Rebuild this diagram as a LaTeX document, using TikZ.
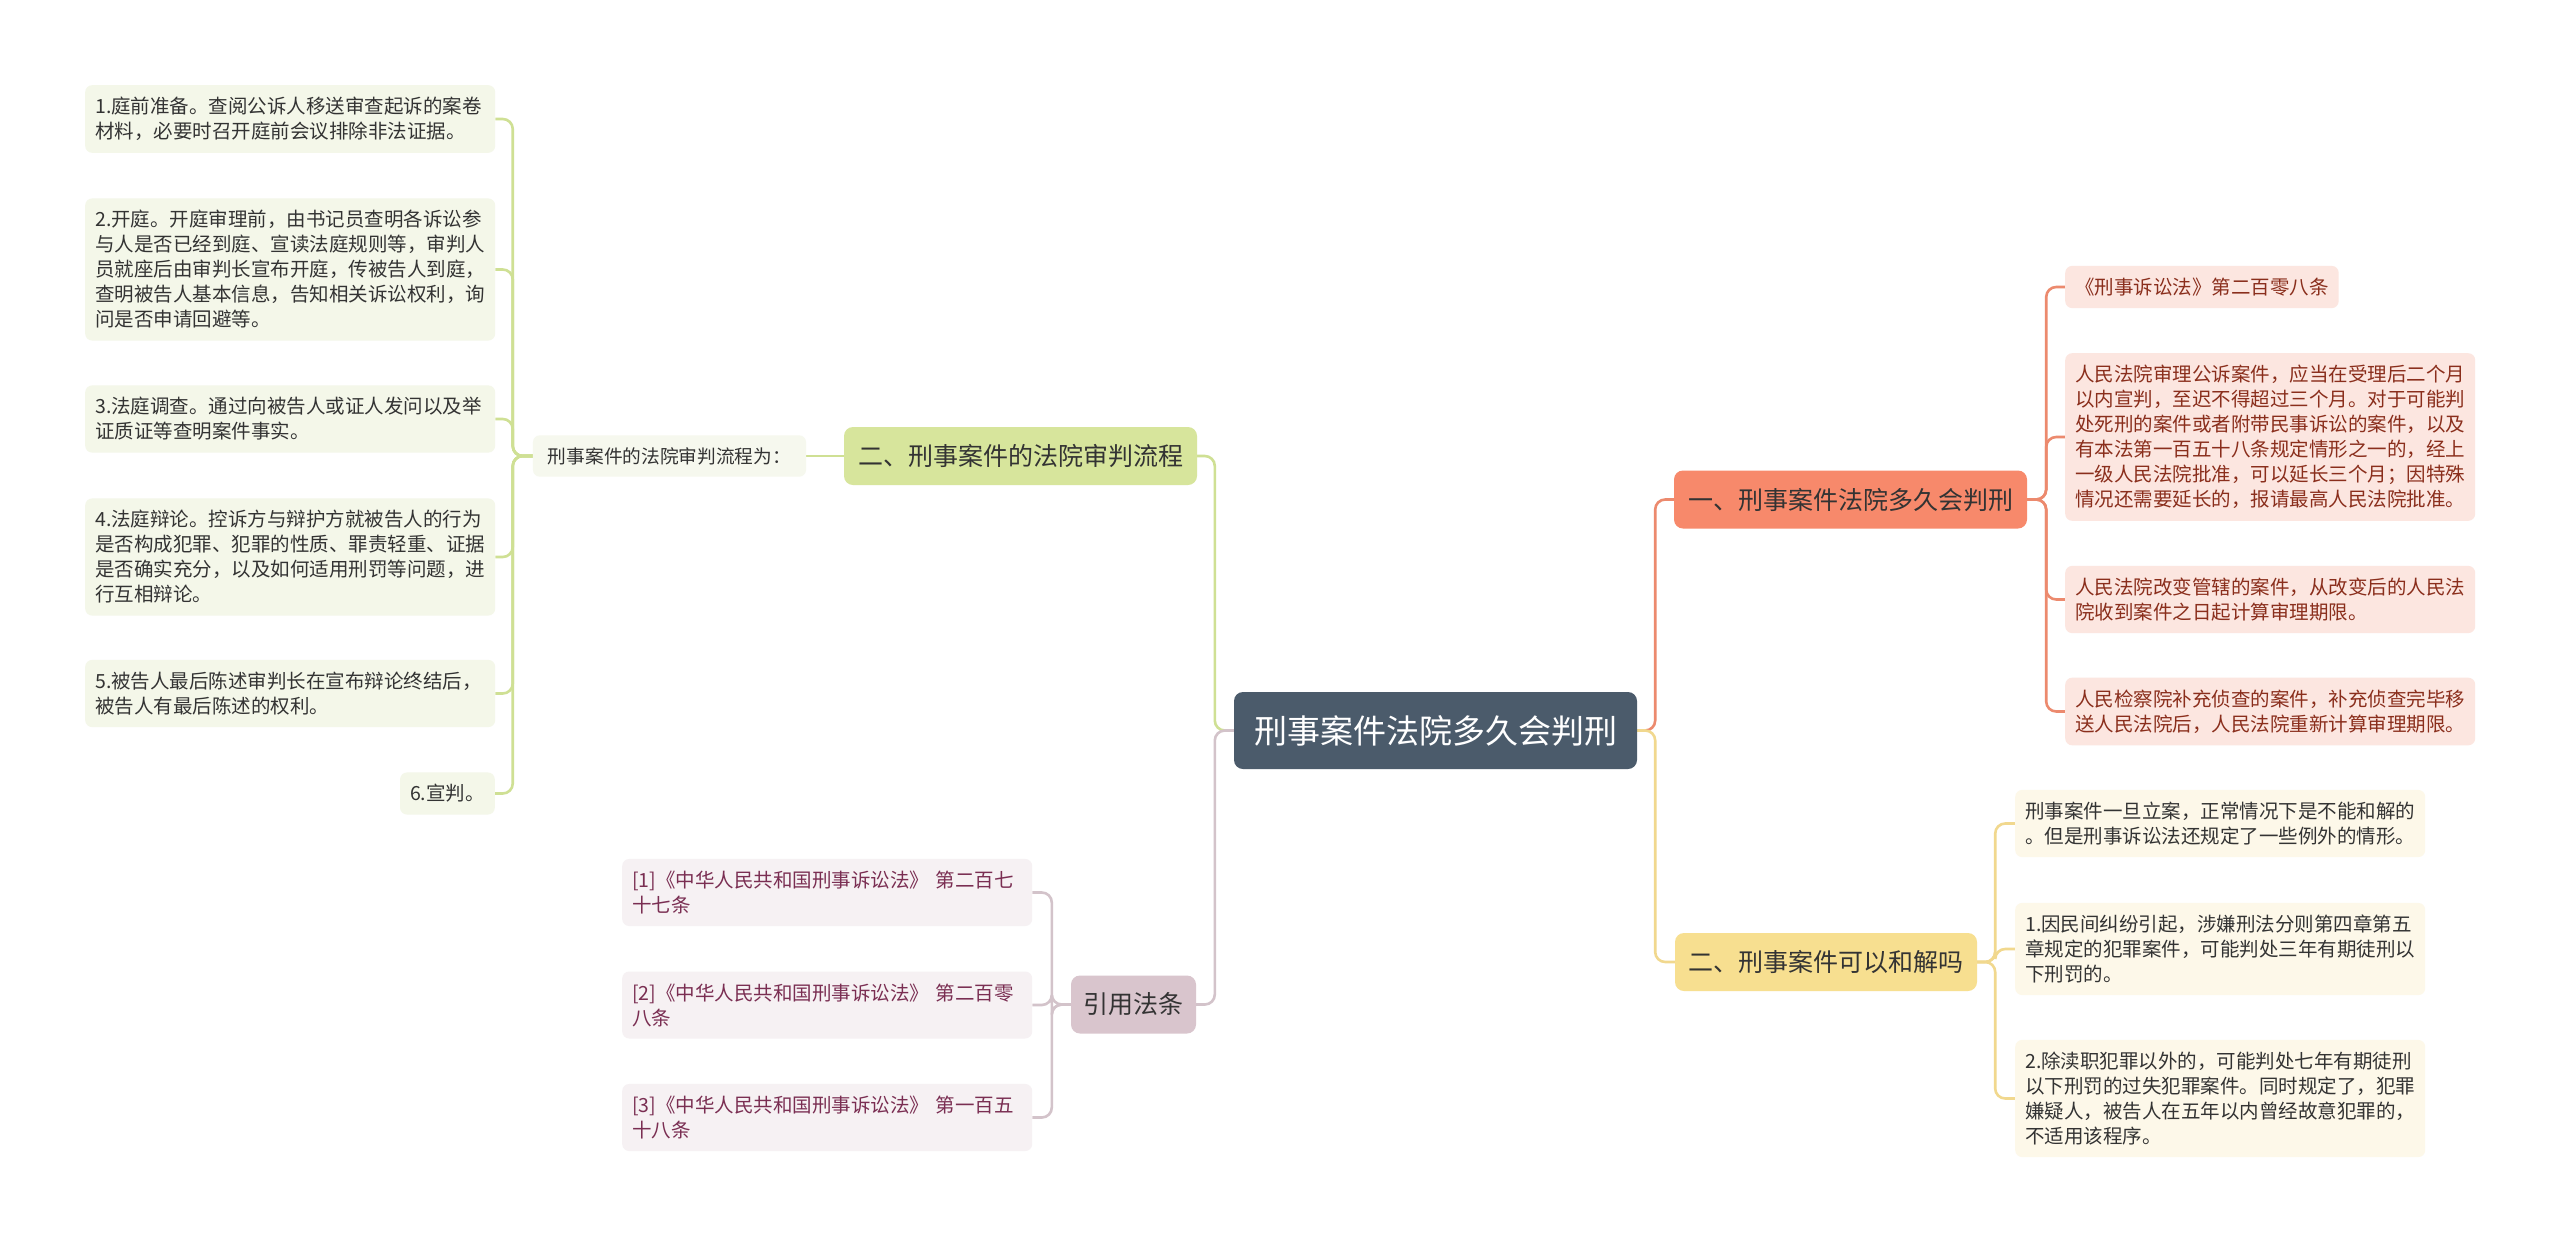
\documentclass[tikz,border=0pt]{standalone}
\usepackage{fontspec}
\setmainfont{Noto Sans CJK SC}
\usetikzlibrary{backgrounds}
\definecolor{cfill}{HTML}{4B5B6B}
\definecolor{gbr}{HTML}{D7E59C}
\definecolor{gln}{HTML}{CFE094}
\definecolor{glf}{HTML}{F4F7E9}
\definecolor{glb}{HTML}{F6F8EE}
\definecolor{mbr}{HTML}{D9C5CD}
\definecolor{mln}{HTML}{D3C3CA}
\definecolor{mlf}{HTML}{F6F1F3}
\definecolor{mtx}{HTML}{7A2E52}
\definecolor{obr}{HTML}{F7896B}
\definecolor{oln}{HTML}{EC8A6E}
\definecolor{olf}{HTML}{FCE6E0}
\definecolor{otx}{HTML}{8A2E1C}
\definecolor{ybr}{HTML}{F7DF90}
\definecolor{yln}{HTML}{F1D88E}
\definecolor{ylf}{HTML}{FDF8E9}
\definecolor{dtx}{HTML}{333333}
\begin{document}
\begin{tikzpicture}[x=1pt,y=-1pt,
  leaf/.style={rounded corners=7pt, inner xsep=10pt, inner ysep=12pt, font=\fontsize{19.5pt}{25pt}\selectfont, align=left},
  wide/.style={text width=390pt},
  branch/.style={rounded corners=9pt, font=\fontsize{25pt}{30pt}\selectfont, inner sep=0pt, minimum height=58pt},
  conn/.style={line width=2.6pt, rounded corners=10pt},
]
\useasboundingbox (0,0) rectangle (2560,1243);

% central
\node[rounded corners=9pt, fill=cfill, text=white, font=\fontsize{33pt}{38pt}\selectfont, inner sep=0pt, minimum width=403pt, minimum height=77pt] (c) at (1435.5,730.5) {刑事案件法院多久会判刑};

% left green branch
\node[branch, fill=gbr, text=dtx, minimum width=353pt] (b2) at (1020.5,456) {二、刑事案件的法院审判流程};
\node[rounded corners=7pt, fill=glb, text=dtx, font=\fontsize{18.7pt}{24pt}\selectfont, inner xsep=15pt, inner ysep=12pt] (lbl) at (669.5,456) {刑事案件的法院审判流程为：};

\node[leaf,wide,fill=glf,text=dtx,anchor=west] (g1) at (85,119) {1.庭前准备。查阅公诉人移送审查起诉的案卷\\材料，必要时召开庭前会议排除非法证据。};
\node[leaf,wide,fill=glf,text=dtx,anchor=west] (g2) at (85,269.5) {2.开庭。开庭审理前，由书记员查明各诉讼参\\与人是否已经到庭、宣读法庭规则等，审判人\\员就座后由审判长宣布开庭，传被告人到庭，\\查明被告人基本信息，告知相关诉讼权利，询\\问是否申请回避等。};
\node[leaf,wide,fill=glf,text=dtx,anchor=west] (g3) at (85,419) {3.法庭调查。通过向被告人或证人发问以及举\\证质证等查明案件事实。};
\node[leaf,wide,fill=glf,text=dtx,anchor=west] (g4) at (85,557) {4.法庭辩论。控诉方与辩护方就被告人的行为\\是否构成犯罪、犯罪的性质、罪责轻重、证据\\是否确实充分，以及如何适用刑罚等问题，进\\行互相辩论。};
\node[leaf,wide,fill=glf,text=dtx,anchor=west] (g5) at (85,693.5) {5.被告人最后陈述审判长在宣布辩论终结后，\\被告人有最后陈述的权利。};
\node[leaf,fill=glf,text=dtx,anchor=east] (g6) at (495,793.5) {6.宣判。};

% mauve branch
\node[branch, fill=mbr, text=dtx, minimum width=125pt] (b4) at (1133.5,1004.5) {引用法条};
\node[leaf,wide,fill=mlf,text=mtx,anchor=west] (m1) at (622,892.5) {[1]《中华人民共和国刑事诉讼法》 第二百七\\十七条};
\node[leaf,wide,fill=mlf,text=mtx,anchor=west] (m2) at (622,1005) {[2]《中华人民共和国刑事诉讼法》 第二百零\\八条};
\node[leaf,wide,fill=mlf,text=mtx,anchor=west] (m3) at (622,1117.5) {[3]《中华人民共和国刑事诉讼法》 第一百五\\十八条};

% orange branch
\node[branch, fill=obr, text=dtx, minimum width=353pt] (b1) at (1850.5,499.5) {一、刑事案件法院多久会判刑};
\node[leaf,fill=olf,text=otx,anchor=west] (o1) at (2065,287) {《刑事诉讼法》第二百零八条};
\node[leaf,wide,fill=olf,text=otx,anchor=west] (o2) at (2065,437) {人民法院审理公诉案件，应当在受理后二个月\\以内宣判，至迟不得超过三个月。对于可能判\\处死刑的案件或者附带民事诉讼的案件，以及\\有本法第一百五十八条规定情形之一的，经上\\一级人民法院批准，可以延长三个月；因特殊\\情况还需要延长的，报请最高人民法院批准。};
\node[leaf,wide,fill=olf,text=otx,anchor=west] (o3) at (2065,599.5) {人民法院改变管辖的案件，从改变后的人民法\\院收到案件之日起计算审理期限。};
\node[leaf,wide,fill=olf,text=otx,anchor=west] (o4) at (2065,711.5) {人民检察院补充侦查的案件，补充侦查完毕移\\送人民法院后，人民法院重新计算审理期限。};

% yellow branch
\node[branch, fill=ybr, text=dtx, minimum width=302pt] (b3) at (1826,962) {二、刑事案件可以和解吗};
\node[leaf,wide,fill=ylf,text=dtx,anchor=west] (y1) at (2015,823.5) {刑事案件一旦立案，正常情况下是不能和解的\\。但是刑事诉讼法还规定了一些例外的情形。};
\node[leaf,wide,fill=ylf,text=dtx,anchor=west] (y2) at (2015,949) {1.因民间纠纷引起，涉嫌刑法分则第四章第五\\章规定的犯罪案件，可能判处三年有期徒刑以\\下刑罚的。};
\node[leaf,wide,fill=ylf,text=dtx,anchor=west] (y3) at (2015,1098.5) {2.除渎职犯罪以外的，可能判处七年有期徒刑\\以下刑罚的过失犯罪案件。同时规定了，犯罪\\嫌疑人，被告人在五年以内曾经故意犯罪的，\\不适用该程序。};

% connectors (behind nodes)
\begin{pgfonlayer}{background}
\fill[white] (0,0) rectangle (2560,1243);
\draw[conn, draw=gln] (c.west) -- ++(-19,0) |- (b2.east);
\draw[conn, draw=mln] (c.west) -- ++(-19,0) |- (b4.east);
\draw[conn, draw=oln] (c.east) -- ++(18,0) |- (b1.west);
\draw[conn, draw=yln] (c.east) -- ++(18,0) |- (b3.west);
\draw[conn, draw=gln] (b2.west) -- (lbl.east);
\foreach \n in {g1,g2,g3,g4,g5,g6} \draw[conn, draw=gln] (lbl.west) -- ++(-20,0) |- (\n.east);
\foreach \n in {m1,m2,m3} \draw[conn, draw=mln] (b4.west) -- ++(-19,0) |- (\n.east);
\foreach \n in {o1,o2,o3,o4} \draw[conn, draw=oln] (b1.east) -- ++(19,0) |- (\n.west);
\foreach \n in {y1,y2,y3} \draw[conn, draw=yln] (b3.east) -- ++(18,0) |- (\n.west);
\end{pgfonlayer}
\end{tikzpicture}
\end{document}
